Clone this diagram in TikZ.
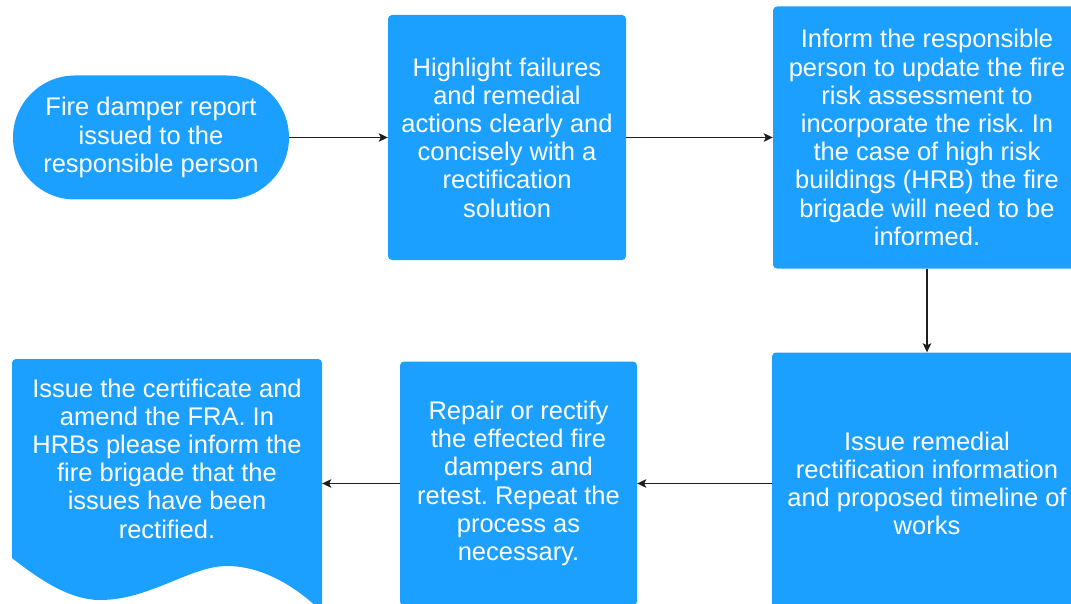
\documentclass[tikz,border=0pt]{standalone}
\usepackage{fontspec}
\setmainfont{Liberation Sans}
\usetikzlibrary{arrows.meta}
\definecolor{boxblue}{RGB}{27,160,255}
\definecolor{arrowgray}{RGB}{30,30,30}
\frenchspacing
\begin{document}
\begin{tikzpicture}[x=1pt,y=-1pt,
  box/.style={rectangle, rounded corners=4pt, fill=boxblue, text=white, align=center,
    inner sep=0pt, font=\fontsize{25.5}{28.2}\selectfont},
  boxtext/.style={rectangle, text=white, align=center, inner sep=0pt,
    font=\fontsize{25.5}{28.2}\selectfont},
  conn/.style={draw=arrowgray, line width=1.3pt, -{Stealth[length=9pt,width=8.5pt,inset=2pt]}}]
\useasboundingbox (0,0) rectangle (1071,604);
\clip (0,0) rectangle (1071,604);
% start terminal
\node[box, rounded corners=62pt, minimum width=276pt, minimum height=124pt] (start) at (151,137.5)
  {Fire damper report\\issued to the\\responsible person};
\node[box, minimum width=238pt, minimum height=245pt] (highlight) at (507,137.5)
  {Highlight failures\\and remedial\\actions clearly and\\concisely with a\\rectification\\solution};
\node[box, minimum width=308pt, minimum height=262pt] (inform) at (927,137.5)
  {Inform the responsible\\person to update the fire\\risk assessment to\\incorporate the risk. In\\the case of high risk\\buildings (HRB) the fire\\brigade will need to be\\informed.};
\node[box, minimum width=310pt, minimum height=262pt] (issue) at (927,483.5)
  {Issue remedial\\rectification information\\and proposed timeline of\\works};
\node[box, minimum width=237pt, minimum height=244pt] (repair) at (518.5,483.5)
  {Repair or rectify\\the effected fire\\dampers and\\retest. Repeat the\\process as\\necessary.};
% document shape
\fill[boxblue] (12,558) [rounded corners=4pt] -- (12,359) -- (322,359) [sharp corners] -- (322,612)
  .. controls (300,590) and (265,566) .. (227,566)
  .. controls (190,566) and (150,600) .. (100,600)
  .. controls (70,600) and (40,580) .. (12,558) -- cycle;
\node[boxtext, minimum width=310pt, minimum height=190pt] (cert) at (167,458.5)
  {Issue the certificate and\\amend the FRA. In\\HRBs please inform the\\fire brigade that the\\issues have been\\rectified.};
% connectors
\draw[conn] (start.east) -- (start.east -| highlight.west);
\draw[conn] (highlight.east) -- (inform.west);
\draw[conn] (inform.south) -- (issue.north);
\draw[conn] (issue.west) -- (repair.east);
\draw[conn] (repair.west) -- (repair.west -| cert.east);
\end{tikzpicture}
\end{document}
